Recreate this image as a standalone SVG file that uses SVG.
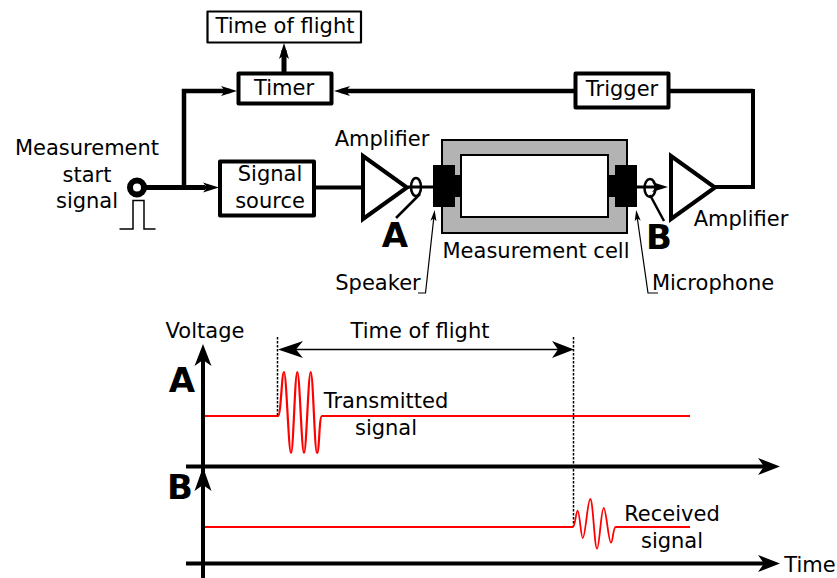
<svg xmlns="http://www.w3.org/2000/svg" width="837" height="578" viewBox="0 0 837 578">
<style>
text{font-family:"DejaVu Sans",sans-serif;font-size:21px;fill:#000;text-anchor:middle}
.b{font-weight:bold;font-size:34px}
.box{fill:#fff;stroke:#000;stroke-linejoin:round}
.l{fill:none;stroke:#000;stroke-linejoin:miter}
.t{fill:#fff;stroke:#000;stroke-linejoin:miter;stroke-width:4}
.r{fill:none;stroke:#f00}
</style>
<defs>
<marker id="sm" markerUnits="userSpaceOnUse" markerWidth="20" markerHeight="14" viewBox="0 0 20 14" refX="10" refY="7" orient="auto"><path d="M1,2L17,7L1,12L5,7Z"/></marker>
<marker id="lg" markerUnits="userSpaceOnUse" markerWidth="26" markerHeight="20" viewBox="0 0 26 20" refX="12" refY="10" orient="auto"><path d="M1,1.500L23,10L1,18.500L7,10Z"/></marker>
<marker id="th" markerUnits="userSpaceOnUse" markerWidth="14" markerHeight="10" viewBox="0 0 14 10" refX="6" refY="5" orient="auto"><path d="M1,2L12,5L1,8L3.500,5Z"/></marker>
</defs>
<g id="connectors">
<path class="l" stroke-width="5" d="M143,187.500H205"/>
<path class="l" stroke-width="4.500" d="M184,187V91H230" marker-end="url(#sm)"/>
<path class="l" stroke-width="3" d="M200,187.500H212" marker-end="url(#sm)"/>
<path class="l" stroke-width="5" d="M284,73V50" marker-end="url(#sm)"/>
<path class="l" stroke-width="4.500" d="M753,91H669M575,91H341" marker-end="url(#sm)"/>
<path class="l" stroke-width="4" d="M753,89V187H715"/>
<path class="l" stroke-width="4" d="M314,187.500H362"/>
<path class="l" stroke-width="3" d="M408,187H433"/>
<path class="l" stroke-width="3" d="M637,187H661" marker-end="url(#sm)"/>
<path class="l" stroke-width="1.500" d="M119.500,229H133V200.500H144V229H155.500"/>
<path class="l" stroke-width="1.200" d="M418,293H425.500L434,216" marker-end="url(#th)"/>
<path class="l" stroke-width="1.200" d="M658,293H648L637,216" marker-end="url(#th)"/>
<path class="l" stroke-width="2.500" d="M420,194L396,218"/>
<path class="l" stroke-width="2.500" d="M650,195L664,221"/>
</g>
<g id="time-of-flight"><rect class="box" x="207.500" y="11.500" width="153.500" height="31" stroke-width="2.200"/><text x="285" y="33">Time of flight</text></g>
<g id="timer"><rect class="box" x="238.500" y="73.500" width="93" height="30" stroke-width="4"/><text x="284" y="95">Timer</text></g>
<g id="trigger"><rect class="box" x="575.500" y="73.500" width="93" height="34" stroke-width="4"/><text x="622" y="96">Trigger</text></g>
<g id="signal-source"><rect class="box" x="220" y="161.500" width="94" height="54" stroke-width="4"/><text x="270" y="181">Signal</text><text x="270" y="208">source</text></g>
<g id="start"><circle cx="137" cy="187.500" r="7" fill="#fff" stroke="#000" stroke-width="6"/><text x="87" y="155">Measurement</text><text x="87" y="182">start</text><text x="87" y="208">signal</text></g>
<g id="amplifier-a"><path class="t" d="M363,156V219L407,187.500Z"/><ellipse cx="416" cy="187" rx="5" ry="9" fill="none" stroke="#000" stroke-width="2.500"/><text x="382" y="146">Amplifier</text></g>
<g id="amplifier-b"><path class="t" d="M671,156V219L715,187.500Z"/><ellipse cx="650" cy="188" rx="5.500" ry="9" fill="none" stroke="#000" stroke-width="2.500"/><text x="741" y="226">Amplifier</text></g>
<g id="cell"><rect x="442" y="140" width="185" height="93" fill="#b3b3b3" stroke="#000" stroke-width="2"/><rect x="461" y="155" width="147" height="62" fill="#fff" stroke="#000" stroke-width="2"/>
<path d="M433,165H455V175H462V197H455V207H433Z"/><path d="M637,165H615V175H608V197H615V207H637Z"/><text x="536" y="258">Measurement cell</text></g>
<g id="labels"><text class="b" x="395" y="247">A</text><text class="b" x="659" y="249">B</text><text x="378" y="290">Speaker</text><text x="713" y="290">Microphone</text></g>
<g id="plot">
<path class="l" stroke-width="1.500" stroke-dasharray="2.500 1.500" d="M277.500,337V416M573.500,337V526"/>
<path class="l" stroke-width="1.500" d="M288,349.500H563" marker-end="url(#lg)"/>
<path d="M278,349.500L303,341L296,349.500L303,358Z"/>
<path class="r" stroke-width="2.200" d="M205,416H278C281,416 281.700,372 284,372C286.400,372 288.600,453 291,453C293.400,453 294.900,372 297.300,372C299.700,372 301.600,453 304,453C306.400,453 308.300,372 310.700,372C313.100,372 314.600,453 317,453C319.500,453 319,416 322,416H690"/>
<path class="r" stroke-width="1.800" d="M205,527H573C575,527 576,510.700 577.700,510.700C579.500,510.700 581,538 582.700,538C585.500,538 587.500,499 590.300,499C593,499 594.500,548.700 597,548.700C599.500,548.700 601,508 603.700,508C606.300,508 608.400,542.700 611,542.700C613,542.700 613,527 615.700,527H690"/>
<path class="l" stroke-width="4" d="M203,578V355" marker-end="url(#lg)"/>
<path d="M203,467L211.500,491L203,485L194.500,491Z"/>
<path class="l" stroke-width="4" d="M186,466.500H769" marker-end="url(#lg)"/>
<path class="l" stroke-width="4" d="M186,563.500H769" marker-end="url(#lg)"/>
<text x="205" y="338">Voltage</text><text x="420" y="338">Time of flight</text>
<text x="386" y="408">Transmitted</text><text x="386" y="435">signal</text>
<text x="672" y="521">Received</text><text x="672" y="548">signal</text>
<text x="810" y="572">Time</text>
<text class="b" x="182" y="392">A</text><text class="b" x="180" y="499">B</text>
</g>
</svg>
